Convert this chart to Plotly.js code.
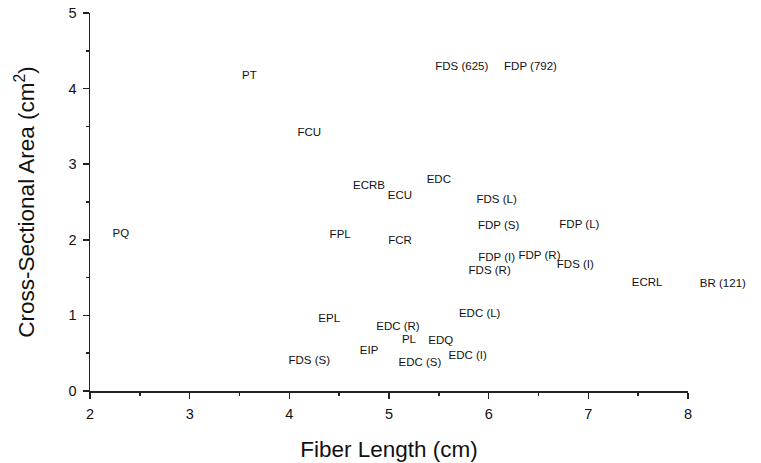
<!DOCTYPE html>
<html><head><meta charset="utf-8">
<script src="https://cdn.plot.ly/plotly-3.0.1.min.js"></script>
<style>html,body{margin:0;padding:0;background:#fff}#c{width:761px;height:463px}</style>
</head><body><div id="c"></div>
<script>
const muscles = ["PT","FDS (625)","FDP (792)","FCU","ECRB","ECU","EDC","FDS (L)","FDP (S)","FDP (L)","PQ","FPL","FCR","FDP (I)","FDP (R)","FDS (I)","FDS (R)","ECRL","BR (121)","EDC (L)","EPL","EDC (R)","PL","EDQ","EIP","EDC (I)","FDS (S)","EDC (S)"];
const fiberLength = [3.60,5.73,6.42,4.20,4.80,5.11,5.50,6.08,6.10,6.91,2.31,4.51,5.11,6.08,6.51,6.87,6.01,7.59,8.35,5.91,4.40,5.09,5.20,5.52,4.80,5.79,4.20,5.31];
const crossArea = [4.17,4.29,4.29,3.41,2.71,2.58,2.79,2.53,2.18,2.20,2.08,2.06,1.98,1.76,1.79,1.67,1.59,1.43,1.42,1.02,0.95,0.85,0.67,0.66,0.53,0.46,0.40,0.37];
const xTicks = [2,3,4,5,6,7,8];
const yTicks = [0,1,2,3,4,5];

const font = "Liberation Sans, Arial, Helvetica, sans-serif";
const xRange = [2, 8];
const W = 761, ML = 90, MR = 8;
const plotW = W - ML - MR;          // full width available
const axisW = 598;                  // visible x axis length in px
const domFrac = axisW / plotW;
const x2Max = xRange[0] + (xRange[1] - xRange[0]) / domFrac;

const inIdx = [], outIdx = [];
fiberLength.forEach((v, i) => (v <= xRange[1] ? inIdx : outIdx).push(i));
const pick = (arr, idx) => idx.map(i => arr[i]);
const tf = {family: font, size: 11.5, color: "#111"};

Plotly.newPlot("c", [{
  type: "scatter", mode: "text", xaxis: "x", yaxis: "y",
  x: pick(fiberLength, inIdx), y: pick(crossArea, inIdx), text: pick(muscles, inIdx),
  textposition: "middle center", textfont: tf, cliponaxis: false, hoverinfo: "none"
}, {
  type: "scatter", mode: "text", xaxis: "x2", yaxis: "y",
  x: pick(fiberLength, outIdx), y: pick(crossArea, outIdx), text: pick(muscles, outIdx),
  textposition: "middle center", textfont: tf, cliponaxis: false, hoverinfo: "none"
}], {
  width: W, height: 463,
  margin: {l: ML, r: MR, t: 13, b: 72},
  paper_bgcolor: "#fff", plot_bgcolor: "rgba(0,0,0,0)",
  showlegend: false,
  font: {family: font, color: "#111"},
  xaxis: {
    domain: [0, domFrac],
    range: xRange, tickvals: xTicks, ticktext: xTicks.map(String),
    showgrid: false, zeroline: false, showline: true, linecolor: "#222", linewidth: 1.5,
    ticks: "outside", ticklen: 6, tickwidth: 1.5, tickcolor: "#222",
    minor: {dtick: 0.5, ticklen: 3, tickcolor: "#222", ticks: "outside", showgrid: false},
    tickfont: {size: 14.5, family: font}, ticklabelstandoff: 3,
    title: {text: "Fiber Length (cm)", font: {size: 22.5, family: font}, standoff: 20}
  },
  xaxis2: {
    anchor: "y", domain: [0, 1], range: [xRange[0], x2Max],
    showgrid: false, zeroline: false, showline: false, showticklabels: false, ticks: ""
  },
  yaxis: {
    range: [0, 5], tickvals: yTicks, ticktext: yTicks.map(String),
    showgrid: false, zeroline: false, showline: true, linecolor: "#222", linewidth: 1.5,
    ticks: "outside", ticklen: 6, tickwidth: 1.5, tickcolor: "#222",
    minor: {dtick: 0.5, ticklen: 3, tickcolor: "#222", ticks: "outside", showgrid: false},
    tickfont: {size: 14.5, family: font}, ticklabelstandoff: 3,
    title: {text: "Cross-Sectional Area (cm<sup>2</sup>)", font: {size: 22.5, family: font}, standoff: 27}
  }
}, {staticPlot: true});
</script>
</body></html>
